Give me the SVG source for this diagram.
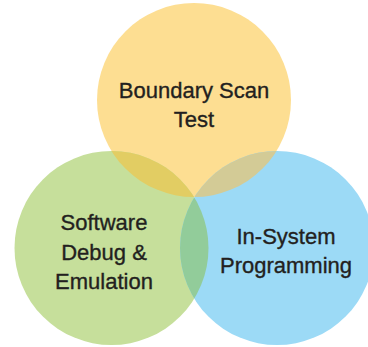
<svg xmlns="http://www.w3.org/2000/svg" width="368" height="347" viewBox="0 0 368 347">
  <style>
    .lbl { font-family: "Liberation Sans", Arial, sans-serif; font-size: 22px; fill: #231F20; stroke: #231F20; stroke-width: 0.35; text-anchor: middle; }
  </style>
  <defs>
    <clipPath id="clipY"><circle cx="194" cy="100" r="97"/></clipPath>
    <clipPath id="clipG"><circle cx="111.5" cy="248" r="97"/></clipPath>
  </defs>
  <rect width="368" height="347" fill="#FFFFFF"/>
  <g id="boundary-scan">
    <circle cx="194" cy="100" r="97" fill="#FDDE92"/>
  </g>
  <g id="software-debug">
    <circle cx="111.5" cy="248" r="97" fill="#C6DF9B"/>
  </g>
  <g id="in-system">
    <circle cx="277" cy="248" r="97" fill="#9CDAF6"/>
  </g>
  <g id="overlaps">
    <circle cx="111.5" cy="248" r="97" fill="#E2CD63" clip-path="url(#clipY)"/>
    <circle cx="277" cy="248" r="97" fill="#D3CB96" clip-path="url(#clipY)"/>
    <circle cx="277" cy="248" r="97" fill="#92CC9A" clip-path="url(#clipG)"/>
  </g>
  <g id="labels">
    <text class="lbl" x="194" y="98">Boundary Scan</text>
    <text class="lbl" x="194" y="127">Test</text>
    <text class="lbl" x="104" y="230">Software</text>
    <text class="lbl" x="104" y="260">Debug &amp;</text>
    <text class="lbl" x="104" y="289">Emulation</text>
    <text class="lbl" x="286" y="244">In-System</text>
    <text class="lbl" x="286" y="273">Programming</text>
  </g>
</svg>
